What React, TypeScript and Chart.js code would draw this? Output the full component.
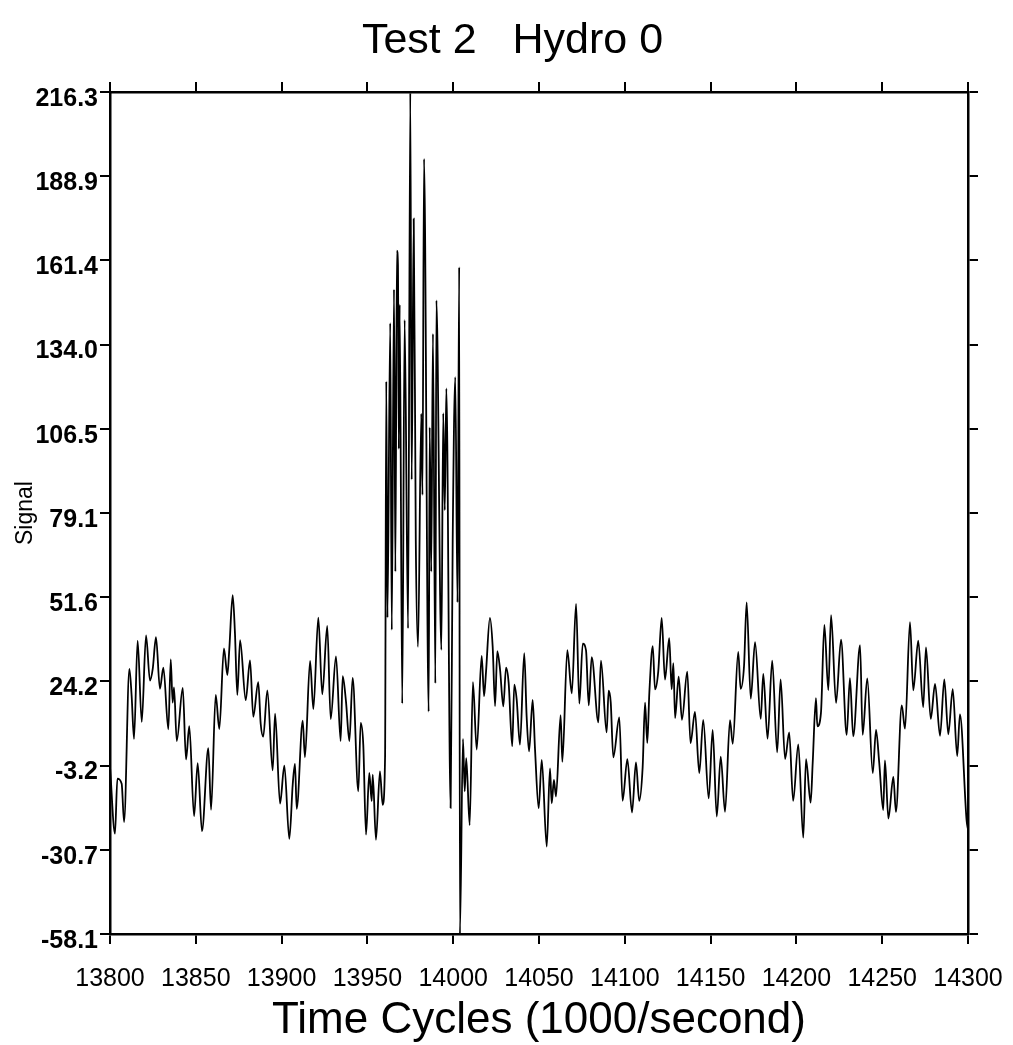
import React, { useEffect, useRef } from "react";
import { Chart, registerables } from "chart.js";

Chart.register(...registerables);

const titleText = "Test 2   Hydro 0";
const xAxisTitle = "Time Cycles (1000/second)";
const yAxisTitle = "Signal";

const xTickValues = [13800, 13850, 13900, 13950, 14000, 14050, 14100, 14150, 14200, 14250, 14300];
const yTickValues = [-58.1, -30.7, -3.2, 24.2, 51.6, 79.1, 106.5, 134.0, 161.4, 188.9, 216.3];

// Time (cycles) of each sample
const times = [
  13800.0, 13802.9, 13804.3, 13806.8, 13808.2, 13811.3, 13812.6, 13814.0, 13816.1, 13818.5,
  13821.0, 13823.3, 13824.9, 13826.8, 13829.1, 13831.1, 13834.0, 13835.4, 13836.5, 13837.3,
  13838.9, 13842.4, 13844.3, 13846.2, 13849.0, 13851.1, 13853.6, 13857.3, 13858.9, 13861.6,
  13863.7, 13866.4, 13868.4, 13869.5, 13871.5, 13872.8, 13874.2, 13875.8, 13879.1, 13881.6,
  13883.5, 13886.4, 13887.8, 13889.3, 13891.7, 13894.8, 13896.2, 13899.1, 13901.6, 13904.5,
  13906.5, 13907.8, 13908.8, 13912.3, 13913.6, 13916.6, 13918.5, 13921.4, 13923.7, 13926.6,
  13928.6, 13931.7, 13934.4, 13935.6, 13937.5, 13939.5, 13941.4, 13944.7, 13946.1, 13947.6,
  13949.2, 13951.1, 13952.5, 13953.1, 13955.0, 13957.3, 13958.9, 13960.3,
  13961.0, 13961.7, 13963.3, 13964.2, 13965.5, 13966.3, 13967.2, 13967.8, 13968.3, 13968.8,
  13970.3, 13971.7, 13973.7, 13975.0, 13975.8, 13977.0, 13978.2, 13979.5, 13981.4, 13982.1,
  13983.0, 13985.7, 13986.3, 13987.2, 13988.2, 13989.6, 13990.2, 13993.1, 13994.2, 13995.1,
  13996.0, 13998.5, 13999.7, 14001.2, 14002.5, 14003.5, 14003.9, 14005.7, 14006.7, 14007.6,
  14009.6, 14011.5, 14013.7, 14016.6,
  14018.0, 14019.1, 14021.4, 14023.0, 14024.4, 14025.7, 14027.3, 14029.2, 14030.8, 14032.3,
  14034.4, 14035.6, 14037.0, 14038.9, 14041.4, 14042.8, 14044.2, 14046.3, 14047.7, 14049.8,
  14051.6, 14054.5, 14056.4, 14057.4, 14058.7, 14059.9, 14062.6, 14063.6, 14066.5, 14069.1,
  14071.6, 14073.5, 14075.5, 14077.4, 14079.0, 14080.7, 14084.6, 14086.1, 14089.4, 14090.6,
  14091.8, 14093.3, 14096.8, 14098.7, 14101.5, 14104.2, 14106.5, 14108.4, 14110.4, 14111.8,
  14113.1, 14114.3, 14116.3, 14117.6, 14119.5, 14121.5, 14123.4, 14125.9, 14127.3, 14128.3,
  14129.3, 14131.4, 14133.3, 14136.4, 14138.3, 14140.9, 14143.4, 14145.7, 14148.9, 14151.2,
  14153.6, 14155.9, 14158.4, 14161.3, 14162.9, 14166.1, 14167.5, 14169.5, 14171.0, 14173.4,
  14175.9, 14179.2, 14180.7, 14183.2, 14185.9, 14188.8, 14190.8, 14193.4, 14195.8, 14198.1,
  14201.1, 14204.0, 14205.6, 14208.3, 14209.5, 14211.4, 14212.2, 14214.3, 14216.3, 14218.6,
  14220.2, 14223.1, 14226.0, 14229.3, 14231.2, 14233.1, 14237.1, 14238.6, 14241.3, 14244.5,
  14246.4, 14248.3, 14250.6, 14251.6, 14253.6, 14256.5, 14258.0, 14261.4, 14263.3, 14266.2,
  14268.1, 14271.0, 14273.9, 14275.5, 14278.3, 14280.8, 14283.7, 14286.2, 14288.5, 14291.1,
  14293.7, 14295.3, 14299.2, 14300.0,
];

// Signal value of each sample
const signal = [
  -3.5, -25.4, -7.5, -9.1, -21.6, 28.3, 19.6, 5.5, 37.5, 11.0,
  39.2, 24.5, 28.3, 38.6, 21.8, 28.7, 8.6, 31.4, 17.3, 22.3,
  4.8, 22.1, -1.2, 9.6, -19.7, -2.4, -24.6, 2.5, -17.6, 19.8,
  8.7, 35.0, 26.3, 34.5, 52.3, 40.2, 19.8, 37.7, 18.1, 31.1,
  12.7, 24.0, 10.5, 6.2, 21.3, -4.8, 13.7, -15.6, -3.2, -27.1,
  -9.2, -2.7, -17.3, 11.4, -0.5, 30.9, 15.2, 45.0, 20.0, 42.3,
  11.9, 32.4, 4.8, 25.9, 17.8, 4.8, 25.4, -11.6, 10.7, 3.6,
  -25.7, -5.6, -14.8, -6.2, -27.4, -5.1, -16.0, -0.3,
  122, 45, 141, 41, 152, 60, 164.6, 160, 100, 147,
  17, 142, 41.5, 216, 90, 175, 70, 35.5, 111.5, 85,
  194.5, 14.4, 107, 60, 137.5, 23.6, 148.4, 34.5, 111.6, 80,
  119.7, -17, 70, 123.4, 50, 159.2, -58, 5.5, -11.6, -0.8,
  -22.6, 24, 2, 32.5,
  19.4, 27.1, 44.9, 35.6, 16.2, 34.1, 28.1, 16.1, 28.7, 23.8,
  3.1, 23.2, 18.3, 3.6, 33.4, 12.8, 1.4, 18.2, 1.9, -17.1,
  -1.4, -29.6, -4.1, -15.5, -7.9, -13.3, 13.2, -2.0, 34.4, 20.3,
  49.5, 17.0, 36.5, 34.3, 16.4, 32.1, 10.9, 31.0, 7.6, 21.2,
  17.4, -0.5, 12.5, -14.7, -1.1, -18.5, -2.2, -14.7, -3.8, 17.3,
  4.2, 20.5, 35.7, 21.6, 27.5, 44.9, 24.8, 38.3, 21.6, 30.2,
  12.3, 25.8, 11.7, 27.4, 4.1, 14.3, -5.7, 11.7, -13.9, 8.4,
  -19.8, -0.3, -18.3, 11.6, 3.9, 33.8, 21.8, 29.4, 50.0, 18.6,
  37.0, 12.0, 26.7, 5.5, 31.0, 1.1, 24.9, -1.1, 7.6, -14.7,
  3.7, -26.7, -1.1, -15.3, -2.3, 18.8, 9.6, 13.9, 42.6, 21.4,
  45.8, 17.2, 37.8, 6.8, 25.3, 6.3, 36.0, 6.8, 25.2, -5.7,
  8.4, -2.5, -17.7, -1.5, -20.5, -6.9, -18.3, 16.4, 8.8, 43.5,
  21.3, 37.5, 15.8, 35.3, 12.0, 23.4, 6.5, 24.9, 7.0, 21.7,
  -0.1, 13.5, -21.2, -24.0,
];

const FONT = "'Liberation Sans', Arial, Helvetica, sans-serif";

export default function App() {
  const ref = useRef<HTMLCanvasElement | null>(null);

  useEffect(() => {
    if (!ref.current) return;
    const setX = (s: any) => {
      s.ticks = xTickValues.map((v) => ({ value: v }));
    };
    const setY = (s: any) => {
      s.ticks = yTickValues.map((v) => ({ value: v }));
    };
    const frameGrid = {
      drawOnChartArea: false,
      drawTicks: true,
      tickLength: 10,
      color: "#000",
      tickWidth: 2,
      lineWidth: 2,
    };
    const frameBorder = { display: true, color: "#000", width: 2.5 };

    const chart = new Chart(ref.current, {
      type: "line",
      data: {
        datasets: [
          {
            data: times.map((t, i) => ({ x: t, y: signal[i] })),
            borderColor: "#000",
            borderWidth: 1.8,
            pointRadius: 0,
            cubicInterpolationMode: "monotone",
            fill: false,
          },
        ],
      },
      options: {
        animation: false,
        responsive: true,
        maintainAspectRatio: false,
        layout: { padding: { left: 12, right: 0, top: 0, bottom: 0 } },
        plugins: {
          legend: { display: false },
          tooltip: { enabled: false },
          title: {
            display: true,
            text: titleText,
            color: "#000",
            font: { family: FONT, size: 43, weight: "normal", lineHeight: 1.2 },
            padding: { top: 15, bottom: 5.4 },
          },
        },
        scales: {
          x: {
            type: "linear",
            position: "bottom",
            min: 13800,
            max: 14300,
            afterBuildTicks: setX,
            ticks: {
              callback: (v: any) => String(v),
              color: "#000",
              font: { family: FONT, size: 25, lineHeight: 2.8 },
              padding: 0,
              maxRotation: 0,
              autoSkip: false,
            },
            grid: frameGrid,
            border: frameBorder,
            title: {
              display: true,
              text: xAxisTitle,
              color: "#000",
              font: { family: FONT, size: 44, lineHeight: 1.1 },
              padding: { top: 0, bottom: 0 },
            },
            afterFit: (s: any) => {
              s.height = 111;
            },
          },
          x2: {
            type: "linear",
            position: "top",
            min: 13800,
            max: 14300,
            afterBuildTicks: setX,
            ticks: { display: false },
            grid: frameGrid,
            border: frameBorder,
            afterFit: (s: any) => {
              s.height = 20;
            },
          },
          y: {
            type: "linear",
            position: "left",
            min: -58.1,
            max: 216.3,
            afterBuildTicks: setY,
            ticks: {
              callback: (v: any) => Number(v).toFixed(1),
              color: "#000",
              font: { family: FONT, size: 25, weight: "bold" },
              padding: 2,
              labelOffset: 7,
            },
            grid: frameGrid,
            border: frameBorder,
            title: {
              display: true,
              text: yAxisTitle,
              color: "#000",
              font: { family: FONT, size: 23 },
              padding: { top: 0, bottom: 0 },
            },
            afterFit: (s: any) => {
              s.width = 98;
            },
          },
          y2: {
            type: "linear",
            position: "right",
            min: -58.1,
            max: 216.3,
            afterBuildTicks: setY,
            ticks: { display: false },
            grid: frameGrid,
            border: frameBorder,
            afterFit: (s: any) => {
              s.width = 45;
            },
          },
        },
      } as any,
    });
    return () => chart.destroy();
  }, []);

  return (
    <div
      style={{
        position: "fixed",
        left: 0,
        top: 0,
        width: 1013,
        height: 1045,
        background: "#fff",
      }}
    >
      <canvas ref={ref} />
    </div>
  );
}
